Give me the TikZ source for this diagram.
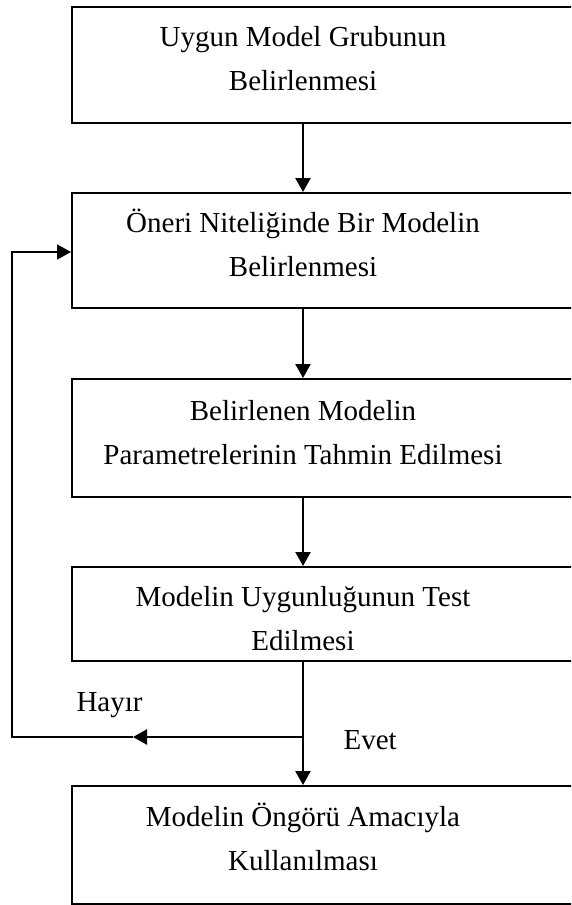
\documentclass[tikz,border=0pt]{standalone}
\usepackage{fontspec}
\setmainfont{Liberation Serif}
\usetikzlibrary{arrows.meta,calc}

\begin{document}
\begin{tikzpicture}[
    x=1pt, y=-1pt,
    box/.style={rectangle, draw, line width=2pt, minimum width=508pt, inner sep=0pt},
    txt/.style={align=center, anchor=base, font=\fontsize{29}{43.5}\selectfont},
    lbl/.style={anchor=base west, font=\fontsize{29}{43}\selectfont},
    arrow/.style={-{Triangle[length=14pt,width=15pt]}, line width=2.4pt},
    thinarrow/.style={-{Triangle[length=14pt,width=15pt]}, line width=1.6pt}
]
\useasboundingbox (0,0) rectangle (571,905);
\clip (0,0) rectangle (571,905);

% Boxes
\node[box, minimum height=116pt] (b1) at (326,65) {};
\node[box, minimum height=115pt] (b2) at (326,250.5) {};
\node[box, minimum height=118pt] (b3) at (326,438) {};
\node[box, minimum height=94pt] (b4) at (326,614) {};
\node[box, minimum height=118pt] (b5) at (326,845) {};

% Texts (base = last line)
\node[txt] (t1) at (303,90) {Uygun Model Grubunun\\Belirlenmesi};
\node[txt] (t2) at (303,276) {Öneri Niteliğinde Bir Modelin\\Belirlenmesi};
\node[txt] (t3) at (303,464) {Belirlenen Modelin\\Parametrelerinin Tahmin Edilmesi};
\node[txt] (t4) at (303,650) {Modelin Uygunluğunun Test\\Edilmesi};
\node[txt] (t5) at (303,870) {Modelin Öngörü Amacıyla\\Kullanılması};

% Labels
\node[lbl] (hayir) at (73,711) {Hayır};
\node[lbl] (evet) at (340,749) {Evet};

% Arrows
\draw[arrow] (t1 |- b1.south) -- (t1 |- b2.north);
\draw[arrow] (t2 |- b2.south) -- (t2 |- b3.north);
\draw[arrow] (t3 |- b3.south) -- (t3 |- b4.north);
\draw[arrow] (t4 |- b4.south) -- (t4 |- b5.north);

% Feedback loop
\coordinate (split) at (t4 |- 0,737);
\coordinate (hook) at (133,737);
\coordinate (lc) at (12,737);
\draw[arrow] (split) -- (hook);
\draw[thinarrow] (hook) -- (lc) |- (b2.west |- 0,252);

\end{tikzpicture}
\end{document}
